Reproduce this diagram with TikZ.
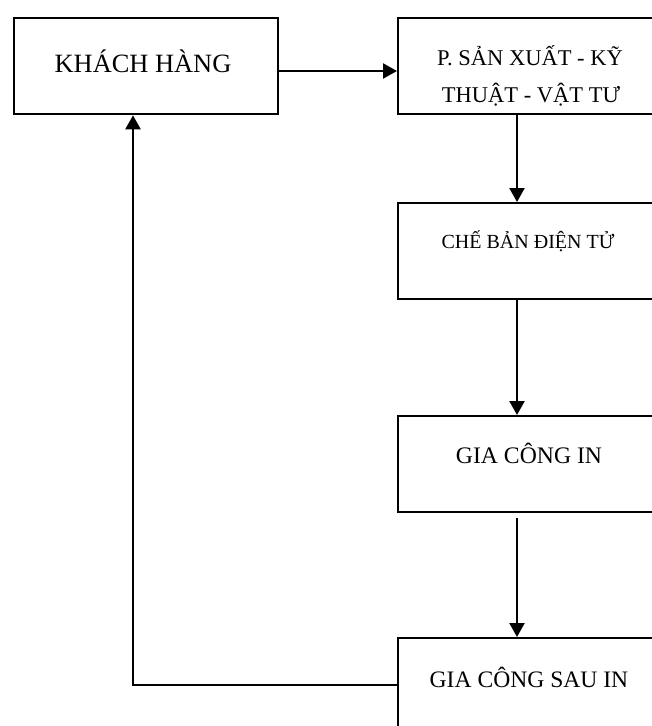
\documentclass[tikz,border=0pt]{standalone}
\usepackage{fontspec}
\setmainfont{Liberation Serif}
\usetikzlibrary{arrows.meta}
\begin{document}
\begin{tikzpicture}[x=1pt,y=-1pt,
  box/.style={draw,line width=2.3pt,rectangle,inner sep=0pt,anchor=north west},
  lbl/.style={anchor=base,inner sep=0pt},
  conn/.style={line width=2.3pt,-{Triangle[length=14pt,width=15pt]}},
  plain/.style={line width=2.3pt}]
\useasboundingbox (0,0) rectangle (652,726);
\clip (0,0) rectangle (652,726);
\fill[white] (0,0) rectangle (652,726);
% boxes
\node[box,minimum width=264pt,minimum height=96pt] (kh) at (13,17) {};
\node[box,minimum width=264pt,minimum height=96pt] (sx) at (397,17) {};
\node[box,minimum width=264pt,minimum height=96pt] (cb) at (397,202) {};
\node[box,minimum width=264pt,minimum height=96pt] (gc) at (397,415) {};
\node[box,minimum width=264pt,minimum height=120pt] (gs) at (397,637) {};
% texts
\node[lbl] (tkh) at (143,72) {\fontsize{26.4}{30}\selectfont KHÁCH HÀNG};
\node[lbl] (tsx1) at (530,65) {\fontsize{22.5}{26}\selectfont P. SẢN XUẤT - KỸ};
\node[lbl] (tsx2) at (531,102) {\fontsize{22.5}{26}\selectfont THUẬT - VẬT TƯ};
\node[lbl] (tcb) at (528,248) {\fontsize{20}{24}\selectfont CHẾ BẢN ĐIỆN TỬ};
\node[lbl] (tgc) at (529,463) {\fontsize{23.7}{28}\selectfont GIA CÔNG IN};
\node[lbl] (tgs) at (529,687) {\fontsize{23.6}{28}\selectfont GIA CÔNG SAU IN};
% connectors
\coordinate (c3s) at (517,518);
\coordinate (fbc) at (133,685);
\draw[conn] (kh.east |- 0,71) -- (sx.west |- 0,71);
\draw[conn] (sx.south -| 517,0) -- (cb.north -| 517,0);
\draw[conn] (cb.south -| 517,0) -- (gc.north -| 517,0);
\draw[conn] (c3s) -- (gs.north -| c3s);
\draw[conn] (gs.west |- fbc) -- (fbc) -- (kh.south -| fbc);
\end{tikzpicture}
\end{document}
